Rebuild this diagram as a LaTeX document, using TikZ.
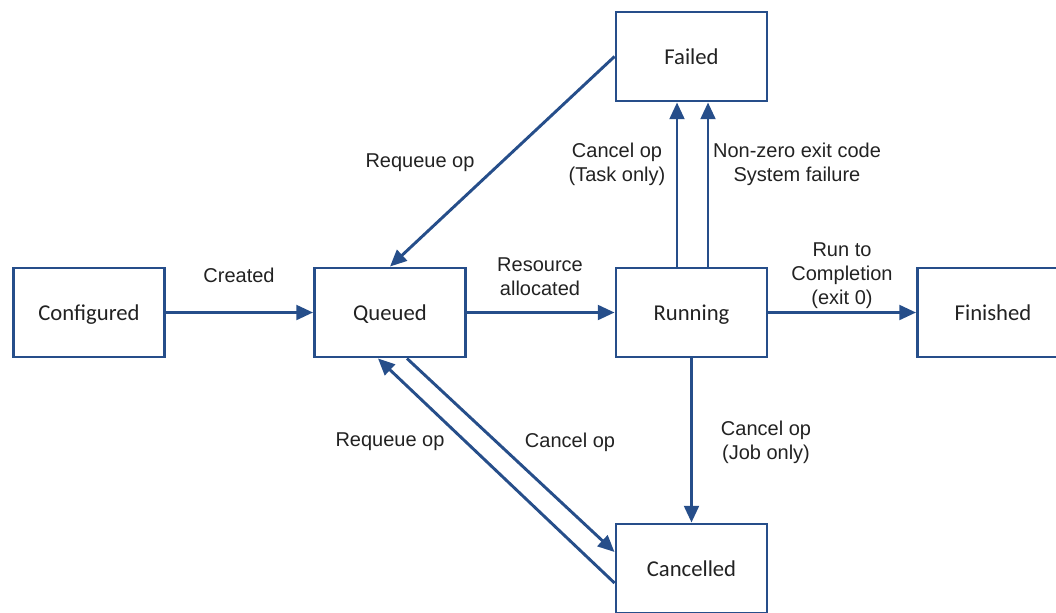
\documentclass[tikz,border=0pt]{standalone}
\usepackage{fontspec}
\setmainfont{Liberation Sans}
\newfontfamily\boxfont{Carlito}
\usetikzlibrary{arrows.meta,calc}
\definecolor{navy}{RGB}{38,78,138}
\definecolor{ink}{RGB}{34,34,34}
\begin{document}
\begin{tikzpicture}[x=0.75pt,y=-0.75pt,
  state/.style={draw=navy, line width=2.2pt, fill=white, minimum width=113.25pt, minimum height=66.75pt, inner sep=0pt, text height=12pt, text depth=0pt, font=\boxfont\fontsize{17}{20}\selectfont, text=ink},
  arr/.style={draw=navy, line width=2.2pt, -{Triangle[length=12.5pt,width=11pt]}},
  lab/.style={font=\fontsize{15}{18}\selectfont, align=center, text=ink, inner sep=0pt}]
\useasboundingbox (0,0) rectangle (1056,612);
\node[state] (conf) at (89,312.5) {Configured};
\node[state] (queued) at (390,312.5) {Queued};
\node[state] (run) at (691.5,312.5) {Running};
\node[state] (fin) at (993,312.5) {Finished};
\node[state] (fail) at (691.5,56.5) {Failed};
\node[state] (canc) at (691.5,568.5) {Cancelled};
\coordinate (xa) at (677,0);
\coordinate (xb) at (708,0);
\draw[arr] (conf) -- (queued);
\draw[arr] (queued) -- (run);
\draw[arr] (run) -- (fin);
\draw[arr] (run.north -| xa) -- (fail.south -| xa);
\draw[arr] (run.north -| xb) -- (fail.south -| xb);
\draw[arr] (fail.west) -- (queued.north);
\draw[arr] (run) -- (canc);
\draw[arr] ($(queued.south)+(17,0)$) -- ($(canc.west)+(0,-16.5)$);
\draw[arr] ($(canc.west)+(0,14.5)$) -- ($(queued.south)+(-12,0)$);
\node[lab] (l1) at (239,275) {Created};
\node[lab] (l2) at (540,277) {Resource\\allocated};
\node[lab] (l3) at (842,276) {Run to\\Completion\\(exit 0)};
\node[lab] (l4) at (420,163) {Requeue op};
\node[lab] (l5) at (617,164) {Cancel op\\(Task only)};
\node[lab] (l6) at (797,164) {Non-zero exit code\\System failure};
\node[lab] (l7) at (766,442) {Cancel op\\(Job only)};
\node[lab] (l8) at (570,442) {Cancel op};
\node[lab] (l9) at (390,442) {Requeue op};
\end{tikzpicture}
\end{document}
